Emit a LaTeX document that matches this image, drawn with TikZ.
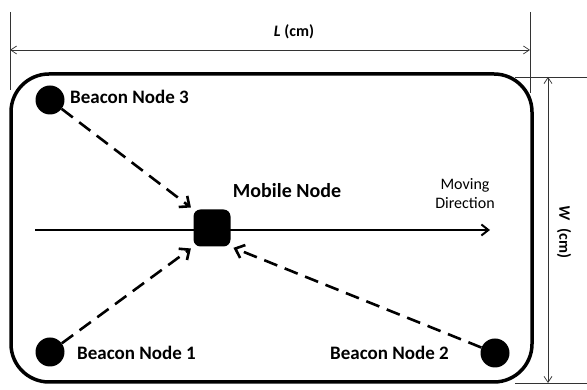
\documentclass[tikz,border=0pt]{standalone}
\usepackage{fontspec}
\setmainfont{Carlito}
\usetikzlibrary{arrows.meta}
\begin{document}
\begin{tikzpicture}[x=1pt,y=1pt,
  dimline/.style={line width=0.7pt,draw=black!80},
  dimarrow/.style={dimline,{Straight Barb[length=6pt,width=8pt]}-{Straight Barb[length=6pt,width=8pt]}},
  beacon/.style={circle,fill=black,minimum size=29pt,inner sep=0pt},
  mobile/.style={rectangle,rounded corners=7pt,fill=black,minimum width=37pt,minimum height=37pt,inner sep=0pt},
  dasharrow/.style={line width=2.6pt,dash pattern=on 14pt off 8pt,-{Straight Barb[length=8pt,width=14pt,line width=2.6pt]},shorten >=3pt},
  lbl/.style={font=\fontsize{19}{22}\selectfont\bfseries,inner sep=0pt},
  smalllbl/.style={font=\fontsize{16}{19}\selectfont,inner sep=0pt,align=center}
]
\useasboundingbox (0,0) rectangle (587,390);
% room
\draw[line width=3.5pt,rounded corners=38pt] (11,8) rectangle (532,316);
% dimension L
\coordinate (Lt) at (10,378);
\coordinate (Lb) at (10,300);
\coordinate (Rt) at (530,378);
\coordinate (Rb) at (530,297);
\draw[dimline] (Lt) -- (Lb);
\draw[dimline] (Rt) -- (Rb);
\coordinate (La) at (10,340);
\coordinate (Lz) at (530,340);
\draw[dimarrow] (La) -- (Lz);
\node[font=\fontsize{16}{19}\selectfont\bfseries,inner sep=0pt] (Ltext) at (294,358) {\textit{L} (cm)};
% dimension W
\coordinate (Tl) at (515,313);
\coordinate (Tr) at (587,313);
\coordinate (Bl) at (515,7);
\coordinate (Br) at (587,7);
\draw[dimline] (Tl) -- (Tr);
\draw[dimline] (Bl) -- (Br);
\coordinate (Wa) at (548,313);
\coordinate (Wz) at (548,7);
\draw[dimarrow] (Wa) -- (Wz);
\node[font=\fontsize{16}{19}\selectfont\bfseries,inner sep=0pt,rotate=-90] (Wtext) at (564,158) {\textit{W} \ (cm)};
% moving direction
\coordinate (ms) at (35,160);
\coordinate (me) at (490,160);
\draw[line width=2pt,-{Straight Barb[length=7pt,width=11pt,line width=2pt]}] (ms) -- (me);
% nodes
\node[mobile] (m) at (212,162) {};
\node[beacon] (b3) at (50,290) {};
\node[beacon] (b1) at (50,38) {};
\node[beacon] (b2) at (495,37) {};
% arrows
\draw[dasharrow] (b3) -- (m.north west);
\draw[dasharrow] (b1) -- (m.south west);
\draw[dasharrow] (b2) -- (m.south east);
% labels
\node[lbl,anchor=west] (t3) at (70,293) {Beacon Node 3};
\node[lbl,anchor=west] (t1) at (77,37) {Beacon Node 1};
\node[lbl,anchor=west] (t2) at (330,37) {Beacon Node 2};
\node[lbl,font=\fontsize{20}{23}\selectfont\bfseries] (tm) at (287,199) {Mobile Node};
\node[smalllbl] (td) at (465,196) {Moving\\Direction};
\end{tikzpicture}
\end{document}
